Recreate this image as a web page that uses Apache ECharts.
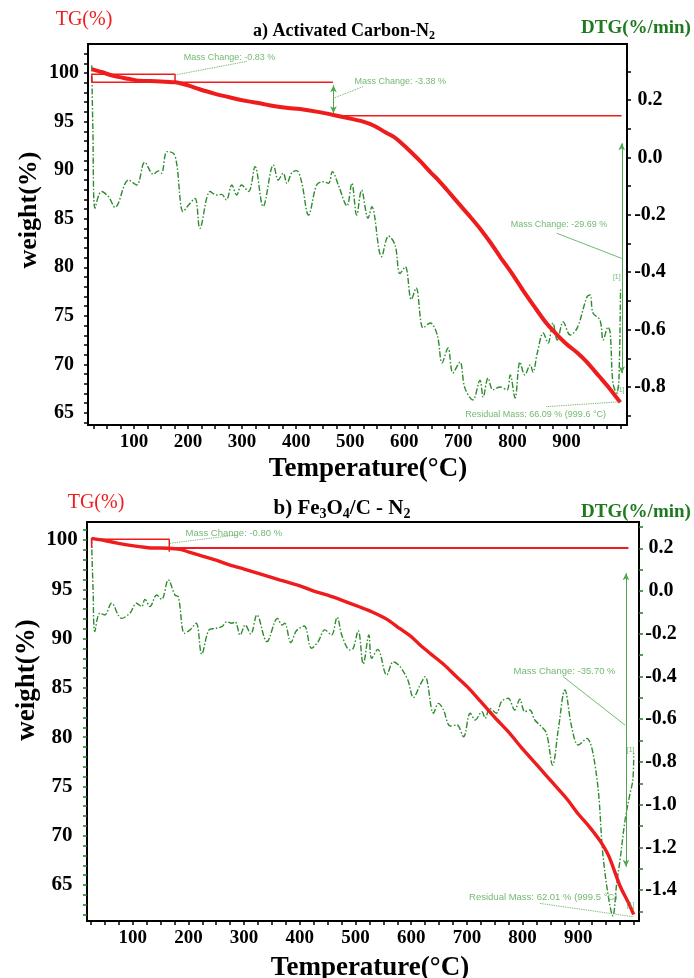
<!DOCTYPE html>
<html><head><meta charset="utf-8">
<script src="https://cdn.jsdelivr.net/npm/echarts@6/dist/echarts.min.js"></script>
<style>html,body{margin:0;padding:0;background:#fff}#c{width:694px;height:978px}</style>
</head><body><div id="c"></div>
<script>
// ---------- data ----------
// a) Activated Carbon-N2 : TG (%) vs temperature (°C)
const tgTop = [[22,100.4],[40,100.1],[62,99.7],[90,99.4],[111,99.2],[140,99.15],[176,99.04],[198,98.76],[220,98.35],[247,97.9],[280,97.45],[309,97.1],[335,96.85],[358,96.6],[385,96.4],[407,96.29],[440,96.0],[469,95.68],[500,95.3],[524,94.99],[545,94.55],[565,93.9],[580,93.45],[592,92.93],[610,92.0],[630,90.9],[650,89.7],[663,88.98],[680,87.9],[700,86.6],[722,85.2],[740,84.0],[760,82.5],[777,81.1],[800,79.3],[820,77.6],[840,76.0],[863,74.23],[880,73.2],[900,72.1],[920,71.2],[937,70.28],[960,68.8],[980,67.5],[999.6,66.09]];
// a) DTG (%/min)
const dtgTop = [[22,0.32],[24,0.10],[28,-0.177],[40,-0.119],[53,-0.137],[65,-0.174],[90,-0.079],[105,-0.096],[120,-0.017],[136,-0.059],[145,-0.047],[151,-0.055],[161,0.020],[173,0.014],[179,-0.021],[191,-0.189],[201,-0.166],[213,-0.143],[222,-0.247],[241,-0.119],[253,-0.131],[262,-0.129],[271,-0.148],[281,-0.096],[290,-0.131],[299,-0.096],[312,-0.119],[324,-0.032],[339,-0.171],[358,-0.026],[367,-0.079],[376,-0.055],[383,-0.090],[392,-0.053],[401,-0.046],[410,-0.085],[423,-0.201],[438,-0.096],[450,-0.085],[460,-0.090],[467,-0.050],[478,-0.096],[494,-0.169],[503,-0.090],[512,-0.201],[521,-0.114],[533,-0.212],[540,-0.172],[558,-0.346],[571,-0.274],[583,-0.305],[592,-0.405],[602,-0.381],[613,-0.495],[622,-0.455],[635,-0.594],[648,-0.577],[661,-0.619],[670,-0.716],[681,-0.664],[690,-0.751],[703,-0.713],[712,-0.803],[727,-0.845],[740,-0.776],[746,-0.835],[755,-0.769],[764,-0.810],[777,-0.800],[790,-0.810],[796,-0.758],[805,-0.838],[814,-0.713],[823,-0.758],[833,-0.723],[838,-0.748],[846,-0.682],[857,-0.612],[866,-0.647],[875,-0.577],[883,-0.636],[894,-0.573],[907,-0.619],[920,-0.594],[938,-0.486],[944,-0.479],[949,-0.542],[962,-0.567],[968,-0.636],[977,-0.591],[981,-0.612],[986,-0.786],[993,-0.821],[997,-0.776],[1000,-0.46]];
// b) Fe3O4/C - N2 : TG (%)
const tgBot = [[26,100.17],[50,99.95],[65,99.77],[90,99.5],[128,99.22],[164,99.16],[185,99.05],[200,98.8],[221,98.45],[250,97.95],[275,97.46],[300,97.05],[330,96.55],[365,95.94],[400,95.35],[424,94.85],[450,94.4],[475,93.9],[508,93.2],[530,92.7],[555,92.0],[580,91.0],[600,90.2],[616,89.35],[634,88.5],[660,87.3],[680,86.2],[701,85.1],[725,83.6],[750,82.0],[775,80.5],[800,78.8],[830,76.9],[855,75.3],[880,73.7],[900,72.2],[920,70.9],[940,69.4],[955,67.9],[975,64.9],[990,63.2],[999.5,62.01]];
// b) DTG (%/min)
const dtgBot = [[26,0.248],[29,0.0],[32,-0.19],[41,-0.104],[50,-0.112],[62,-0.057],[80,-0.128],[95,-0.104],[107,-0.057],[116,-0.073],[122,-0.039],[131,-0.073],[143,-0.019],[152,-0.039],[164,0.052],[176,-0.019],[182,-0.027],[193,-0.198],[203,-0.182],[214,-0.151],[224,-0.296],[237,-0.182],[248,-0.175],[260,-0.167],[269,-0.144],[278,-0.151],[284,-0.144],[293,-0.206],[302,-0.159],[312,-0.201],[323,-0.112],[341,-0.237],[360,-0.128],[368,-0.159],[373,-0.151],[384,-0.242],[394,-0.186],[408,-0.164],[421,-0.268],[433,-0.237],[445,-0.182],[457,-0.206],[467,-0.123],[476,-0.211],[490,-0.276],[496,-0.268],[505,-0.186],[514,-0.342],[524,-0.206],[529,-0.315],[540,-0.273],[556,-0.393],[568,-0.331],[580,-0.354],[594,-0.417],[604,-0.499],[616,-0.44],[625,-0.401],[640,-0.572],[649,-0.526],[658,-0.557],[670,-0.632],[682,-0.627],[694,-0.682],[706,-0.572],[715,-0.604],[727,-0.565],[733,-0.596],[741,-0.549],[753,-0.572],[762,-0.518],[774,-0.502],[786,-0.557],[795,-0.507],[804,-0.565],[813,-0.557],[822,-0.604],[834,-0.635],[843,-0.666],[854,-0.815],[864,-0.651],[876,-0.463],[888,-0.635],[900,-0.721],[915,-0.690],[933,-0.869],[944,-1.228],[954,-1.431],[962,-1.521],[969,-1.368],[975,-1.259],[984,-1.072],[993,-0.947],[998,-0.885],[999.5,-0.76]];

// annotation geometry (data coordinates: °C, weight %)
const stepTopBox = [[22,99.87],[176,99.87],[176,99.05],[22,99.05],[22,99.87]];
const stepTopLine1 = [[176,99.05],[468,99.05]];
const stepTopLine2 = [[468,95.6],[1002,95.6]];
const stepBotBox = [[26.4,100.07],[165.7,100.07],[165.7,98.81]];
const stepBotBoxLow = [[26.4,100.07],[26.4,99.2]];
const stepBotLine = [[165.7,99.2],[990,99.2]];
const leadersTop = [[[176,99.79],[309,101.2]],[[469,97.4],[524,98.6]],[[863,65.65],[1002,66.16]]];
const leadersTopSolid = [[[882,83.5],[1002,80.92]]];
const leadersBot = [[[167,99.67],[286.7,100.51]],[[831,63.14],[998.7,61.78]]];
const leadersBotSolid = [[[873,86.13],[983.8,81.23]]];
const arrowsTop = [[469,98.75,469,95.85],[1002.3,92.76,1002.3,69.09]];
const arrowsBot = [[985.6,96.62,985.6,66.86]];
const textsTop = [[191,101.62,'Mass Change: -0.83 %'],[507,99.1,'Mass Change: -3.38 %'],[796,84.35,'Mass Change: -29.69 %'],[712,64.79,'Residual Mass: 66.09 % (999.6 °C)']];
const marksTop = [[985,78.97,'[1]'],[992,67.4,'[1]']];
const textsBot = [[194,100.68,'Mass Change: -0.80 %'],[783,86.64,'Mass Change: -35.70 %'],[703,63.71,'Residual Mass: 62.01 % (999.5 °C)']];
const marksBot = [[986,78.69,'[1]'],[986,62.97,'[1]']];

// tick labels
const xLabels = [100,200,300,400,500,600,700,800,900];
const wLabels = [65,70,75,80,85,90,95,100];
const dtgTopLabels = [-0.8,-0.6,-0.4,-0.2,0.0,0.2];
const dtgBotLabels = [-1.4,-1.2,-1.0,-0.8,-0.6,-0.4,-0.2,0.0,0.2];
function range(a,b,s){const r=[];for(let v=a;v<=b+1e-9;v+=s)r.push(Math.round(v*1000)/1000);return r;}
const xTicks = range(25,1000,25);

// ---------- style ----------
const SERIF = '"Liberation Serif","Times New Roman",serif';
const SANS = '"Liberation Sans",Arial,sans-serif';
const RED = '#ee1c1c', GREEN = '#2e8b2e', ANNO = '#4fa64f', DGREEN = '#1f7a1f';

function fmt1(v){return Math.abs(v)<1e-9?'0.0':v.toFixed(1);}

function xAxis(gi,min,max){
  return {type:'value',gridIndex:gi,min,max,
    axisLine:{show:true,onZero:false,lineStyle:{color:'#000',width:2}},
    axisTick:{show:true,customValues:xTicks,length:4,lineStyle:{color:'#000',width:1.5}},
    axisLabel:{customValues:xLabels,fontFamily:SERIF,fontWeight:'bold',fontSize:19,color:'#000',margin:8},
    splitLine:{show:false}};
}
function yAxis(gi,pos,min,max,ticks,labels,fs,margin,tickColor,fmt){
  return {type:'value',gridIndex:gi,position:pos,min,max,
    axisLine:{show:true,onZero:false,lineStyle:{color:'#000',width:2}},
    axisTick:{show:true,customValues:ticks,length:4,lineStyle:{color:tickColor,width:1.5}},
    axisLabel:{customValues:labels,fontFamily:SERIF,fontWeight:'bold',fontSize:fs,color:'#000',margin,align:'center',formatter:fmt},
    splitLine:{show:false}};
}
function poly(xi,yi,pts,color,width,type,z){
  return {type:'line',xAxisIndex:xi,yAxisIndex:yi,data:pts,symbol:'none',showSymbol:false,silent:true,
    animation:false,lineStyle:{color,width,type:type||'solid'},z:z||2};
}
function curve(xi,yi,pts,color,width,type,z,smooth){
  const s=poly(xi,yi,pts,color,width,type,z); s.smooth=smooth||0; return s;
}
function texts(xi,yi,arr,fs){
  return {type:'scatter',xAxisIndex:xi,yAxisIndex:yi,symbolSize:1,silent:true,animation:false,
    itemStyle:{color:'rgba(0,0,0,0)'},
    data:arr.map(t=>({value:[t[0],t[1]],name:t[2]})),
    label:{show:true,position:'right',distance:0,formatter:'{b}',color:ANNO,fontSize:fs,fontFamily:SANS},z:5};
}
function arrows(xi,yi,arr){
  return {type:'line',xAxisIndex:xi,yAxisIndex:yi,data:[[arr[0][0],arr[0][1]]],symbol:'none',silent:true,animation:false,
    lineStyle:{opacity:0},
    markLine:{silent:true,animation:false,symbol:['arrow','arrow'],symbolSize:[5,7],label:{show:false},
      lineStyle:{color:ANNO,width:1,type:'solid'},emphasis:{disabled:true},
      data:arr.map(a=>[{coord:[a[0],a[1]]},{coord:[a[2],a[3]]}])},z:4};
}

const series = [
  curve(0,1,dtgTop,GREEN,1.4,[6,2,1.5,2],2,0.35),
  curve(0,0,tgTop,RED,4,'solid',3,0.3),
  poly(0,0,stepTopBox,RED,1.5),
  poly(0,0,stepTopLine1,RED,1.5),
  poly(0,0,stepTopLine2,RED,1.5),
  ...leadersTop.map(l=>poly(0,0,l,ANNO,0.9,'dotted',4)),
  ...leadersTopSolid.map(l=>poly(0,0,l,ANNO,0.8,'solid',4)),
  arrows(0,0,arrowsTop),
  texts(0,0,textsTop,9),
  texts(0,0,marksTop,7),

  curve(1,3,dtgBot,GREEN,1.4,[6,2,1.5,2],2,0.35),
  curve(1,2,tgBot,RED,3.4,'solid',3,0.3),
  poly(1,2,stepBotBox,RED,1.5),
  poly(1,2,stepBotBoxLow,RED,1.5),
  poly(1,2,stepBotLine,RED,2),
  ...leadersBot.map(l=>poly(1,2,l,ANNO,0.9,'dotted',4)),
  ...leadersBotSolid.map(l=>poly(1,2,l,ANNO,0.8,'solid',4)),
  arrows(1,2,arrowsBot),
  texts(1,2,textsBot,9.5),
  texts(1,2,marksBot,7)
];

function gtext(x,y,text,font,fill,rot){
  return {type:'text',x,y,rotation:rot||0,silent:true,
    style:{text,font,fill,align:'center',verticalAlign:'middle'}};
}
function gtitle(x,y,text,fs,sfs){
  return {type:'text',x,y,silent:true,
    style:{text,align:'center',verticalAlign:'middle',fill:'#000',
      rich:{m:{fontSize:fs,fontWeight:'bold',fontFamily:SERIF,fill:'#000',lineHeight:fs+4},
            s:{fontSize:sfs,fontWeight:'bold',fontFamily:SERIF,fill:'#000',lineHeight:sfs+1,verticalAlign:'bottom'}}}};
}

const option = {
  backgroundColor:'#fff',
  animation:false,
  grid:[
    {left:88,top:44,width:539,height:381,show:true,borderColor:'#000',borderWidth:2,containLabel:false},
    {left:87,top:522,width:552,height:399,show:true,borderColor:'#000',borderWidth:2,containLabel:false}
  ],
  xAxis:[xAxis(0,15,1012),xAxis(1,18,1009)],
  yAxis:[
    yAxis(0,'left',63.76,102.985,range(64,102,1),wLabels,20,24,'#000'),
    yAxis(0,'right',-0.9324,0.3951,range(-0.9,0.3,0.1),dtgTopLabels,20,23,'#000',fmt1),
    yAxis(1,'left',61.35,101.826,range(62,101,1),wLabels,21,25,DGREEN),
    yAxis(1,'right',-1.5449,0.3231,range(-1.5,0.3,0.1),dtgBotLabels,20,22,DGREEN,fmt1)
  ],
  series,
  graphic:[
    gtext(84,20,'TG(%)','20px '+SERIF,RED),
    gtext(636,28,'DTG(%/min)','bold 19px '+SERIF,DGREEN),
    gtitle(344,31,'{m|a) Activated Carbon-N}{s|2}',18,12),
    gtext(29,210,'weight(%)','bold 26px '+SERIF,'#000',Math.PI/2),
    gtext(368,469,'Temperature(°C)','bold 27px '+SERIF,'#000'),
    gtext(96,503,'TG(%)','20px '+SERIF,RED),
    gtext(636,512,'DTG(%/min)','bold 19px '+SERIF,DGREEN),
    gtitle(342,509,'{m|b) Fe}{s|3}{m|O}{s|4}{m|/C - N}{s|2}',21,14),
    gtext(27,680,'weight(%)','bold 27px '+SERIF,'#000',Math.PI/2),
    gtext(370,968,'Temperature(°C)','bold 27px '+SERIF,'#000')
  ]
};
const chart = echarts.init(document.getElementById('c'),null,{renderer:'canvas'});
chart.setOption(option);
</script></body></html>
